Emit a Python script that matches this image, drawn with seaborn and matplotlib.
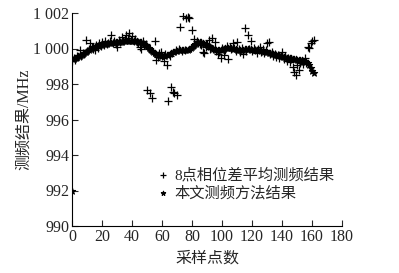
import matplotlib
matplotlib.use("Agg")
import matplotlib.pyplot as plt
import seaborn as sns
import numpy as np

sns.set_style("ticks")
plt.rcParams['font.family'] = ['Liberation Serif', 'Noto Sans CJK SC', 'DejaVu Sans']
plt.rcParams['axes.unicode_minus'] = False

# Proposed method (star series), sample index 0..161
star_vals = [
    992.0, 999.42, 999.46, 999.5, 999.55, 999.6, 999.65, 999.7, 999.76, 999.82,
    999.88, 999.93, 999.98, 1000.02, 1000.06, 1000.1, 1000.13, 1000.16, 1000.19, 1000.22,
    1000.24, 1000.26, 1000.27, 1000.28, 1000.29, 1000.3, 1000.31, 1000.33, 1000.34, 1000.35,
    1000.36, 1000.37, 1000.38, 1000.39, 1000.4, 1000.41, 1000.42, 1000.42, 1000.42, 1000.42,
    1000.42, 1000.41, 1000.41, 1000.4, 1000.39, 1000.38, 1000.36, 1000.33, 1000.28, 1000.2,
    1000.12, 1000.04, 999.96, 999.88, 999.8, 999.74, 999.69, 999.65, 999.62, 999.6,
    999.59, 999.59, 999.6, 999.62, 999.65, 999.69, 999.74, 999.79, 999.83, 999.86,
    999.88, 999.89, 999.9, 999.9, 999.9, 999.9, 999.91, 999.93, 999.96, 1000.02,
    1000.1, 1000.2, 1000.28, 1000.34, 1000.37, 1000.37, 1000.35, 1000.32, 1000.28, 1000.24,
    1000.19, 1000.14, 1000.09, 1000.04, 1000.0, 999.96, 999.93, 999.91, 999.91, 999.93,
    999.96, 999.99, 1000.02, 1000.04, 1000.05, 1000.05, 1000.04, 1000.02, 1000.0, 999.97,
    999.94, 999.92, 999.91, 999.92, 999.94, 999.95, 999.96, 999.96, 999.95, 999.95,
    999.94, 999.93, 999.92, 999.91, 999.9, 999.89, 999.87, 999.85, 999.83, 999.81,
    999.79, 999.77, 999.75, 999.72, 999.7, 999.68, 999.66, 999.63, 999.61, 999.58,
    999.55, 999.53, 999.51, 999.49, 999.47, 999.45, 999.44, 999.42, 999.41, 999.4,
    999.38, 999.37, 999.35, 999.34, 999.32, 999.3, 999.25, 999.17, 999.05, 998.92,
    998.75, 998.6,
]

# 8-point phase-difference averaging (plus series), sample index 0..161
plus_vals = [
    999.3, 999.45, 999.38, 999.55, 999.5, 999.92, 999.6, 999.75, 999.7, 1000.48,
    999.85, 1000.0, 1000.33, 1000.1, 999.95, 999.9, 1000.2, 1000.05, 1000.3, 1000.15,
    1000.35, 1000.2, 1000.4, 1000.25, 1000.3, 1000.45, 1000.76, 1000.3, 1000.4, 1000.25,
    1000.1, 1000.5, 1000.35, 1000.67, 1000.45, 1000.55, 1000.75, 1000.6, 1000.9, 1000.5,
    1000.7, 1000.45, 1000.55, 1000.35, 1000.3, 1000.1, 1000.0, 1000.4, 1000.2, 1000.25,
    997.66, 999.95, 997.48, 997.19, 999.8, 1000.45, 999.35, 999.5, 999.75, 999.8,
    999.55, 999.3, 999.7, 999.07, 997.06, 999.6, 997.85, 997.57, 997.48, 999.9,
    997.38, 999.95, 1001.19, 999.85, 1001.83, 999.9, 1001.7, 1001.75, 1001.7, 1000.05,
    1001.04, 1000.52, 1000.2, 1000.45, 1000.3, 1000.25, 1000.2, 999.82, 999.75, 1000.1,
    1000.25, 1000.48, 1000.0, 1000.57, 999.95, 1000.35, 999.85, 999.7, 999.8, 999.48,
    1000.05, 999.63, 999.9, 1000.15, 999.4, 1000.1, 999.95, 1000.29, 1000.05, 999.85,
    1000.38, 999.95, 999.8, 1000.05, 999.67, 1001.17, 999.85, 1000.76, 1000.0, 1000.45,
    999.85, 1000.05, 999.9, 999.75, 1000.0, 1000.1, 999.8, 999.95, 999.75, 999.9,
    1000.3, 1000.38, 999.7, 999.8, 999.55, 999.7, 999.5, 999.65, 999.45, 999.6,
    999.8, 999.4, 999.55, 999.3, 999.45, 999.25, 999.4, 998.97, 998.69, 998.5,
    999.07, 998.79, 999.2, 999.3, 999.15, 999.45, 999.2, 1000.1, 1000.05, 1000.29,
    1000.4, 1000.48,
]

x_idx = list(range(len(plus_vals)))

x_ticks = [0, 20, 40, 60, 80, 100, 120, 140, 160, 180]
y_ticks = [990, 992, 994, 996, 998, 1000, 1002]
y_ticklabels = ["990", "992", "994", "996", "998", "1 000", "1 002"]

label_plus = "8点相位差平均测频结果"
label_star = "本文测频方法结果"
xlabel = "采样点数"
ylabel = "测频结果/MHz"

fig = plt.figure(figsize=(3.99, 2.73), dpi=100)
ax = fig.add_axes([72/399, 1-226/273, 270/399, 213/273])

sns.scatterplot(x=x_idx, y=plus_vals, marker='+', color='black', s=28,
                linewidth=0.9, ax=ax, label=label_plus, zorder=3)
sns.scatterplot(x=list(range(len(star_vals))), y=star_vals, marker='*', color='black',
                s=22, linewidth=0.8, edgecolor='black', ax=ax, label=label_star, zorder=4)

ax.set_xlim(0, 180)
ax.set_ylim(990, 1002)
ax.set_xticks(x_ticks)
ax.set_yticks(y_ticks)
ax.set_yticklabels(y_ticklabels)
ax.tick_params(direction='in', length=4, width=0.8, labelsize=11.5, pad=2)
for lab in ax.get_xticklabels() + ax.get_yticklabels():
    lab.set_fontfamily('Liberation Serif')

sns.despine(ax=ax)
for s in ['left', 'bottom']:
    ax.spines[s].set_linewidth(0.8)
    ax.spines[s].set_color('black')

ax.set_xlabel(xlabel, fontsize=11.5, labelpad=4)
ax.set_ylabel(ylabel, fontsize=11.5, labelpad=1)

ax.legend(loc='upper left', bbox_to_anchor=(0.31, 0.275), frameon=False,
          handletextpad=0.2, handlelength=1.0, borderpad=0, borderaxespad=0,
          labelspacing=0.25, prop={'family': ['Liberation Serif', 'Noto Sans CJK SC'], 'size': 11},
          markerscale=0.7)

fig.savefig("out.png", dpi=100)
